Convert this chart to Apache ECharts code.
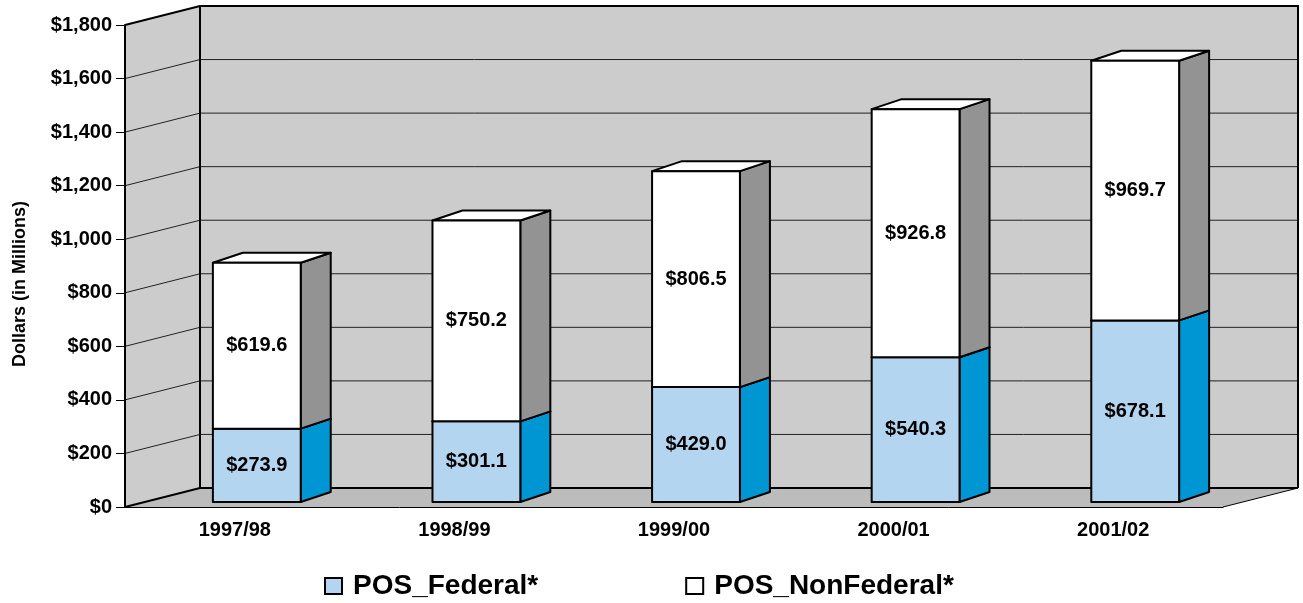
<!DOCTYPE html>
<html>
<head>
<meta charset="utf-8">
<script src="https://cdn.jsdelivr.net/npm/echarts@6/dist/echarts.min.js"></script>
<style>
  html, body { margin: 0; padding: 0; background: #fff; }
  #main { width: 1303px; height: 603px; }
</style>
</head>
<body>
<div id="main"></div>
<script>
// data
var years = ['1997/98', '1998/99', '1999/00', '2000/01', '2001/02'];
var federal = [273.9, 301.1, 429.0, 540.3, 678.1];
var nonFederal = [619.6, 750.2, 806.5, 926.8, 969.7];
var yTicks = [0, 200, 400, 600, 800, 1000, 1200, 1400, 1600, 1800];

var FONT = "'Liberation Sans', Arial, sans-serif";

// 3d look
var WALL_DX = 75, WALL_DY = -19;   // depth of the walls
var BAR_OX = 22, BAR_OY = -5;      // bar front face inside the floor
var BAR_DX = 30, BAR_DY = -10;     // depth of a bar

var myChart = echarts.init(document.getElementById('main'));

// back wall, side wall, floor and their grid lines
function renderWalls(params, api) {
    var cs = params.coordSys;
    var x0 = cs.x, x1 = cs.x + cs.width;
    var yB = api.coord([0, 0])[1];
    var yT = api.coord([0, 1800])[1];
    var thick = { stroke: '#000', lineWidth: 2, fill: null };
    var thin = { stroke: '#222', lineWidth: 1, fill: null };
    var kids = [];
    // side wall
    kids.push({ type: 'polygon', shape: { points: [[x0, yB], [x0 + WALL_DX, yB + WALL_DY], [x0 + WALL_DX, yT + WALL_DY], [x0, yT]] },
        style: { fill: '#cccccc' } });
    // back wall
    kids.push({ type: 'rect', shape: { x: x0 + WALL_DX, y: yT + WALL_DY, width: x1 - x0, height: yB - yT },
        style: { fill: '#cccccc' } });
    // floor
    kids.push({ type: 'polygon', shape: { points: [[x0, yB], [x1, yB], [x1 + WALL_DX, yB + WALL_DY], [x0 + WALL_DX, yB + WALL_DY]] },
        style: { fill: '#bcbcbc' } });
    // grid lines
    yTicks.forEach(function (v) {
        if (v === 0 || v === 1800) return;
        var y = api.coord([0, v])[1];
        kids.push({ type: 'line', shape: { x1: x0, y1: y, x2: x0 + WALL_DX, y2: y + WALL_DY }, style: thin });
        kids.push({ type: 'line', shape: { x1: x0 + WALL_DX, y1: y + WALL_DY, x2: x1 + WALL_DX, y2: y + WALL_DY }, style: thin });
    });
    // outlines
    kids.push({ type: 'polyline', shape: { points: [[x0, yT], [x0 + WALL_DX, yT + WALL_DY], [x1 + WALL_DX, yT + WALL_DY], [x1 + WALL_DX, yB + WALL_DY]] }, style: thick });
    kids.push({ type: 'line', shape: { x1: x0 + WALL_DX, y1: yT + WALL_DY, x2: x0 + WALL_DX, y2: yB + WALL_DY }, style: thick });
    kids.push({ type: 'polyline', shape: { points: [[x0, yB], [x0 + WALL_DX, yB + WALL_DY], [x1 + WALL_DX, yB + WALL_DY]] }, style: thick });
    kids.push({ type: 'line', shape: { x1: x1, y1: yB, x2: x1 + WALL_DX, y2: yB + WALL_DY }, style: { stroke: '#000', lineWidth: 1 } });
    return { type: 'group', children: kids };
}

// one segment of a stacked 3d bar
function makeBarRenderer(front, side, top) {
    return function (params, api) {
        var cat = api.value(0), base = api.value(1), val = api.value(2);
        var p0 = api.coord([cat, base]);
        var p1 = api.coord([cat, base + val]);
        var bw = api.size([1, 0])[0] * 0.4;
        var xl = p0[0] - bw / 2 + BAR_OX, xr = xl + bw;
        var yb = p0[1] + BAR_OY, yt = p1[1] + BAR_OY;
        var line = { stroke: '#000', lineWidth: 2, lineJoin: 'round' };
        return {
            type: 'group',
            children: [
                { type: 'polygon', shape: { points: [[xr, yb], [xr + BAR_DX, yb + BAR_DY], [xr + BAR_DX, yt + BAR_DY], [xr, yt]] },
                  style: Object.assign({ fill: side }, line) },
                { type: 'polygon', shape: { points: [[xl, yt], [xr, yt], [xr + BAR_DX, yt + BAR_DY], [xl + BAR_DX, yt + BAR_DY]] },
                  style: Object.assign({ fill: top }, line) },
                { type: 'rect', shape: { x: xl, y: yt, width: bw, height: yb - yt },
                  style: Object.assign({ fill: front }, line) },
                { type: 'text', style: { text: '$' + val.toFixed(1), x: (xl + xr) / 2, y: (yt + yb) / 2,
                  align: 'center', verticalAlign: 'middle', font: 'bold 20px ' + FONT, fill: '#000' } }
            ]
        };
    };
}

var fedData = federal.map(function (v, i) { return [i, 0, v]; });
var nonFedData = nonFederal.map(function (v, i) { return [i, federal[i], v]; });

var option = {
    animation: false,
    grid: { left: 125, top: 25, width: 1098, height: 482 },
    legend: {
        data: ['POS_Federal*', 'POS_NonFederal*'],
        top: 572,
        left: 324,
        padding: 0,
        icon: 'rect',
        itemWidth: 17,
        itemHeight: 16,
        itemGap: 147,
        textStyle: { fontSize: 28, fontWeight: 'bold', fontFamily: FONT, color: '#000', padding: [0, 0, 0, 6] }
    },
    graphic: [{
        type: 'text',
        x: 20, y: 284,
        rotation: Math.PI / 2,
        style: { text: 'Dollars (in Millions)', align: 'center', verticalAlign: 'middle',
                 font: 'bold 18px ' + FONT, fill: '#000' }
    }],
    xAxis: {
        type: 'category',
        data: years,
        axisLine: { lineStyle: { color: '#000', width: 1 } },
        axisTick: { length: 8, lineStyle: { color: '#000' } },
        axisLabel: { margin: 13, fontSize: 20, fontWeight: 'bold', fontFamily: FONT, color: '#000' },
        splitLine: { show: false }
    },
    yAxis: {
        type: 'value',
        min: 0,
        max: 1800,
        interval: 200,
        axisLine: { show: true, lineStyle: { color: '#000', width: 2 } },
        axisTick: { show: true, length: 9, lineStyle: { color: '#000' } },
        axisLabel: {
            margin: 13, fontSize: 20, fontWeight: 'bold', fontFamily: FONT, color: '#000',
            formatter: function (v) { return '$' + v.toLocaleString('en-US'); }
        },
        splitLine: { show: false }
    },
    series: [
        { name: 'walls', type: 'custom', z: -1, silent: true, renderItem: renderWalls,
          data: [[0, 0]], encode: { x: 0, y: 1 } },
        { name: 'POS_Federal*', type: 'custom', z: 2,
          itemStyle: { color: '#b4d5ef', borderColor: '#000', borderWidth: 1 },
          renderItem: makeBarRenderer('#b4d5ef', '#0096d3', '#b4d5ef'),
          data: fedData, encode: { x: 0, y: 2 } },
        { name: 'POS_NonFederal*', type: 'custom', z: 3,
          itemStyle: { color: '#ffffff', borderColor: '#000', borderWidth: 1 },
          renderItem: makeBarRenderer('#ffffff', '#939393', '#ffffff'),
          data: nonFedData, encode: { x: 0, y: 2 } }
    ]
};

myChart.setOption(option);
</script>
</body>
</html>
